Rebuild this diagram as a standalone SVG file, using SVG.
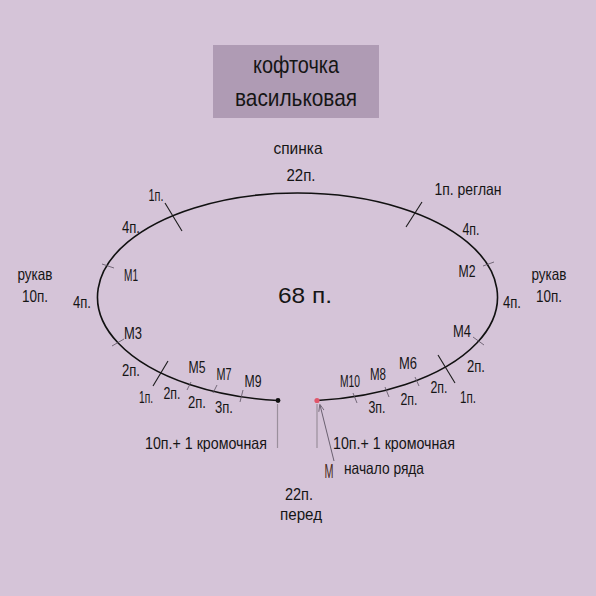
<svg xmlns="http://www.w3.org/2000/svg" width="596" height="596" viewBox="0 0 596 596">
<defs>
<style>
text{font-family:"Liberation Sans Narrow","Liberation Sans",Arial,sans-serif;fill:#151515;text-anchor:middle;font-size:16.5px}
.t{font-size:24px}
.big{font-size:22px}
.tick{stroke:#1a1a1a;stroke-width:1.1}
.mt{stroke:#5a5060;stroke-width:0.8}
.gl{stroke:#9a8f9c;stroke-width:1.2}
</style>
<marker id="ah" viewBox="0 0 10 10" refX="9" refY="5" markerWidth="7" markerHeight="7" orient="auto-start-reverse" markerUnits="userSpaceOnUse">
<path d="M0,1 L10,5 L0,9" fill="none" stroke="#6a6070" stroke-width="1.2"/>
</marker>
</defs>
<rect width="596" height="596" fill="#d5c4d8"/>
<g id="title">
<rect x="213" y="45" width="166" height="73" fill="#af9bb4"/>
<text class="t" x="296" y="73" textLength="86" lengthAdjust="spacingAndGlyphs">кофточка</text>
<text class="t" x="296" y="106" textLength="122" lengthAdjust="spacingAndGlyphs">васильковая</text>
</g>
<g id="connectors">
<path id="ring" d="M278,400.5 A200,104 0 1 1 317,400.5" fill="none" stroke="#111" stroke-width="1.6"/>
<line class="tick" x1="165" y1="203" x2="182" y2="231"/>
<line class="tick" x1="422" y1="202" x2="406" y2="227"/>
<line class="tick" x1="168" y1="361" x2="153" y2="386"/>
<line class="tick" x1="438" y1="355" x2="455" y2="383"/>
<line class="mt" x1="102" y1="264" x2="114" y2="268"/>
<line class="mt" x1="112" y1="346" x2="124" y2="339"/>
<line class="mt" x1="483" y1="266" x2="494" y2="262"/>
<line class="mt" x1="473" y1="337" x2="484" y2="345"/>
<line class="mt" x1="191" y1="382" x2="187" y2="390"/>
<line class="mt" x1="217" y1="385" x2="213" y2="393"/>
<line class="mt" x1="243" y1="390" x2="240" y2="402"/>
<line class="mt" x1="353" y1="393" x2="357" y2="403"/>
<line class="mt" x1="385" y1="387" x2="389" y2="397"/>
<line class="mt" x1="415" y1="377" x2="419" y2="386"/>
<line class="gl" x1="277.5" y1="404" x2="277.5" y2="448"/>
<line class="gl" x1="317" y1="404" x2="317" y2="448"/>
<line x1="334" y1="461" x2="320" y2="405" stroke="#6a6070" stroke-width="1" marker-end="url(#ah)"/>
<circle cx="278" cy="400.5" r="2.4" fill="#111"/>
<circle cx="317" cy="400.5" r="2.6" fill="#e0566a"/>
</g>
<g id="labels">
<text x="298" y="154" textLength="49" lengthAdjust="spacingAndGlyphs">спинка</text>
<text x="301" y="181" textLength="29" lengthAdjust="spacingAndGlyphs">22п.</text>
<text x="156" y="201" textLength="15" lengthAdjust="spacingAndGlyphs">1п.</text>
<text x="131" y="233" textLength="18" lengthAdjust="spacingAndGlyphs">4п.</text>
<text x="131" y="281" textLength="14" lengthAdjust="spacingAndGlyphs">M1</text>
<text x="35" y="280" textLength="35" lengthAdjust="spacingAndGlyphs">рукав</text>
<text x="35" y="302" textLength="26" lengthAdjust="spacingAndGlyphs">10п.</text>
<text x="82" y="308" textLength="18" lengthAdjust="spacingAndGlyphs">4п.</text>
<text x="133" y="339" textLength="18" lengthAdjust="spacingAndGlyphs">M3</text>
<text x="131" y="376" textLength="18" lengthAdjust="spacingAndGlyphs">2п.</text>
<text x="146" y="403" textLength="14" lengthAdjust="spacingAndGlyphs">1п.</text>
<text x="172" y="399" textLength="17" lengthAdjust="spacingAndGlyphs">2п.</text>
<text x="197" y="373" textLength="17" lengthAdjust="spacingAndGlyphs">M5</text>
<text x="197" y="408" textLength="18" lengthAdjust="spacingAndGlyphs">2п.</text>
<text x="224" y="380" textLength="15" lengthAdjust="spacingAndGlyphs">M7</text>
<text x="224" y="413" textLength="18" lengthAdjust="spacingAndGlyphs">3п.</text>
<text x="253" y="387" textLength="17" lengthAdjust="spacingAndGlyphs">M9</text>
<text x="350" y="387" textLength="20" lengthAdjust="spacingAndGlyphs">M10</text>
<text x="377" y="413" textLength="17" lengthAdjust="spacingAndGlyphs">3п.</text>
<text x="378" y="380" textLength="16" lengthAdjust="spacingAndGlyphs">M8</text>
<text x="409" y="405" textLength="17" lengthAdjust="spacingAndGlyphs">2п.</text>
<text x="408" y="369" textLength="18" lengthAdjust="spacingAndGlyphs">M6</text>
<text x="439" y="393" textLength="17" lengthAdjust="spacingAndGlyphs">2п.</text>
<text x="468" y="403" textLength="16" lengthAdjust="spacingAndGlyphs">1п.</text>
<text x="476" y="372" textLength="18" lengthAdjust="spacingAndGlyphs">2п.</text>
<text x="462" y="337" textLength="18" lengthAdjust="spacingAndGlyphs">M4</text>
<text x="512" y="308" textLength="18" lengthAdjust="spacingAndGlyphs">4п.</text>
<text x="467" y="277" textLength="17" lengthAdjust="spacingAndGlyphs">M2</text>
<text x="549" y="280" textLength="35" lengthAdjust="spacingAndGlyphs">рукав</text>
<text x="549" y="302" textLength="26" lengthAdjust="spacingAndGlyphs">10п.</text>
<text x="471" y="235" textLength="17" lengthAdjust="spacingAndGlyphs">4п.</text>
<text x="468" y="195" textLength="67" lengthAdjust="spacingAndGlyphs">1п. реглан</text>
<text class="big" x="305" y="303" textLength="54" lengthAdjust="spacingAndGlyphs">68 п.</text>
<text x="206" y="449" textLength="122" lengthAdjust="spacingAndGlyphs">10п.+ 1 кромочная</text>
<text x="394" y="449" textLength="122" lengthAdjust="spacingAndGlyphs">10п.+ 1 кромочная</text>
<text x="329" y="478" style="font-size:20px;fill:#4a2a20" textLength="9" lengthAdjust="spacingAndGlyphs">M</text>
<text x="384" y="474" textLength="80" lengthAdjust="spacingAndGlyphs">начало ряда</text>
<text x="299" y="500" textLength="28" lengthAdjust="spacingAndGlyphs">22п.</text>
<text x="301" y="520" textLength="42" lengthAdjust="spacingAndGlyphs">перед</text>
</g>
</svg>
